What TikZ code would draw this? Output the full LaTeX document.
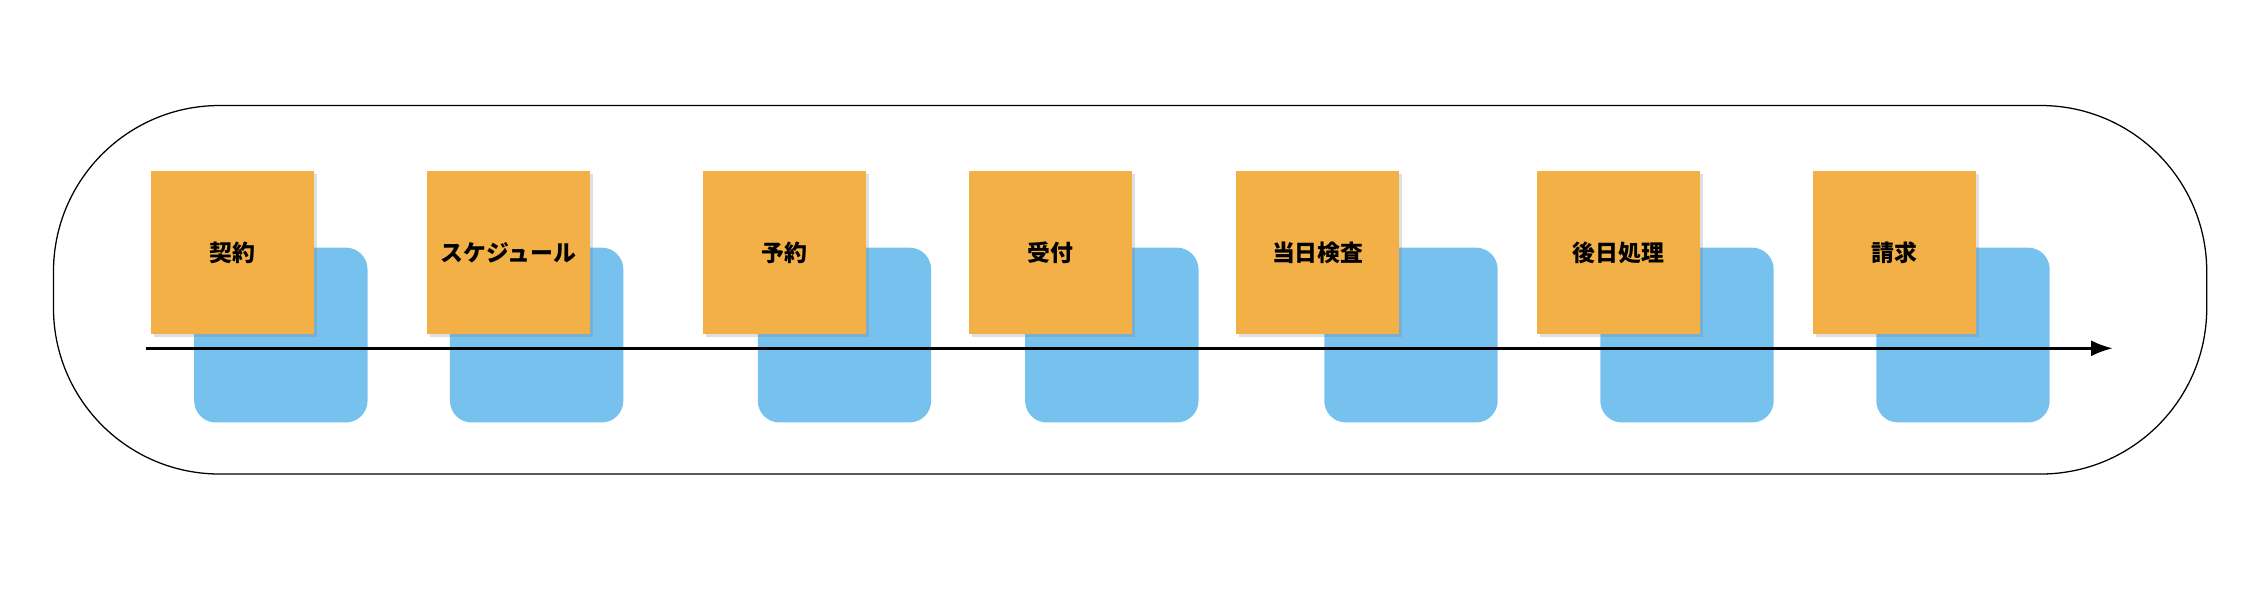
\documentclass[tikz,border=0pt]{standalone}
\usepackage{fontspec}
\newfontfamily\cjk{Noto Sans CJK JP}
\usetikzlibrary{arrows.meta}
\definecolor{stickyorange}{HTML}{F2B047}
\definecolor{stickyblue}{HTML}{77C1EE}
\tikzset{
  sticky/.style={fill=stickyorange, minimum size=2.26cm, inner sep=0pt,
    font=\cjk\bfseries\fontsize{9}{11}\selectfont, anchor=north west,
    drop shadow={shadow xshift=0.04cm, shadow yshift=-0.04cm, opacity=0.25}},
  card/.style={fill=stickyblue, rounded corners=0.3cm, minimum width=2.4cm,
    minimum height=2.42cm, inner sep=0pt, anchor=north west},
}
\usetikzlibrary{shadows}
\begin{document}
\begin{tikzpicture}[x=0.02cm, y=-0.02cm]
    \useasboundingbox (0,0) rectangle (1568,407);
    % outer frame
    \draw[black, line width=0.5pt, rounded corners=2.3cm] (37,73) rectangle (1527,328);

    % blue cards
    \foreach \x/\n in {134/1, 311/2, 524/3, 709/4, 916/5, 1107/6, 1298/7}
        \node[card] (card\n) at (\x,171) {};

    % time line
    \coordinate (start) at (101,241);
    \coordinate (end) at (1462,241);
    \draw[-{Latex[length=3mm,width=2.2mm]}, line width=1pt] (start) -- (end);

    % orange stickies
    \foreach \x/\t [count=\n] in {104/契約, 295/スケジュール, 486/予約, 670/受付,
        855/当日検査, 1063/後日処理, 1254/請求}
        \node[sticky] (step\n) at (\x,118) {\t};
\end{tikzpicture}
\end{document}
